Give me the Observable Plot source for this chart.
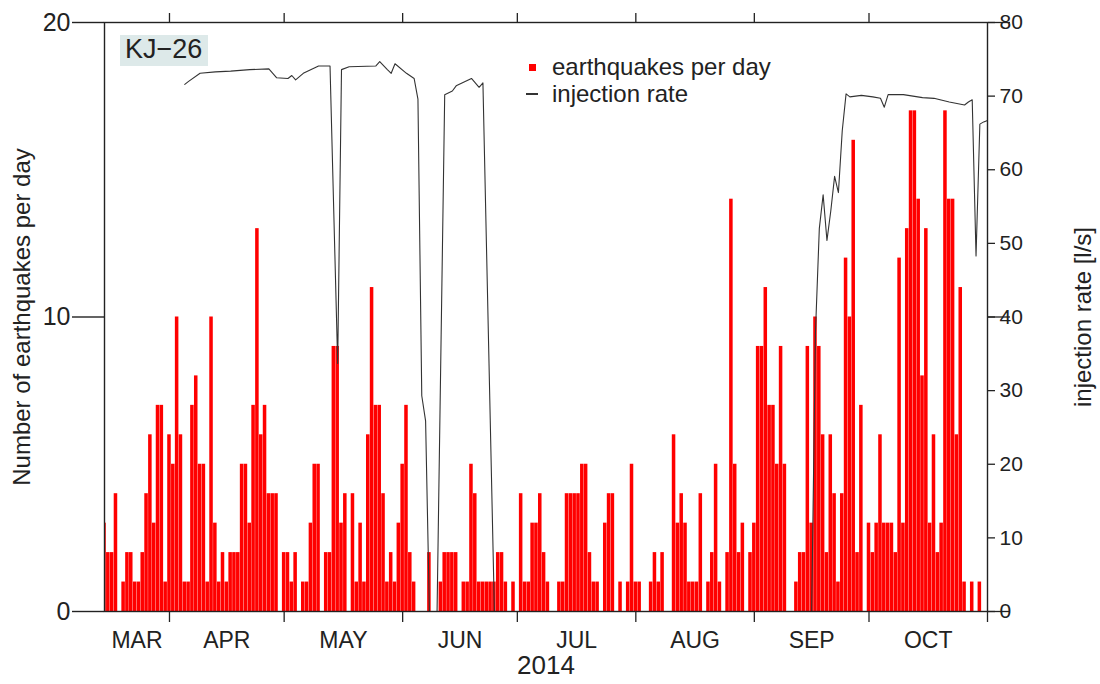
<!DOCTYPE html>
<html>
<head>
<meta charset="utf-8">
<script src="https://cdn.jsdelivr.net/npm/d3@7"></script>
<script src="https://cdn.jsdelivr.net/npm/@observablehq/plot@0.6"></script>
<style>
  body { margin: 0; background: #fff; }
  #wrap { position: relative; width: 1100px; height: 684px; font-family: "Liberation Sans", Arial, sans-serif; color: #222; }
  #tag { position: absolute; left: 120px; top: 35px; width: 88px; height: 31px; background: #dde9e9; }
  #tag span { position: absolute; left: 5px; top: 1px; font-size: 27px; line-height: 27px; }
  .legtxt { position: absolute; left: 552px; font-size: 24px; line-height: 24px; white-space: nowrap; }
  #sq { position: absolute; left: 529px; top: 64px; width: 7px; height: 7px; background: #ff0000; }
  #dash { position: absolute; left: 526px; top: 93px; width: 12px; height: 1.5px; background: #333; }
</style>
</head>
<body>
<div id="wrap"></div>
<script>
// ---------------- data ----------------
const startDate = "2014-03-15";
const endDate = "2014-11-01";

// earthquakes per day, one value per day
const quakesMar = [3,2,2,4,0,1,2,2,1,1,2,4,6,3,7,7,1];                       // Mar 15-31
const quakesApr = [6,5,10,6,1,1,7,8,5,5,1,10,3,1,2,1,2,2,2,5,5,3,7,13,6,7,4,4,4,0];
const quakesMay = [2,2,1,2,0,1,1,3,5,5,0,2,2,9,9,3,4,0,4,1,3,1,6,11,7,7,4,1,2,1,3];
const quakesJun = [5,7,2,1,0,0,0,2,0,0,1,2,2,2,2,0,1,1,5,4,1,1,1,1,1,2,2,1,0,1];
const quakesJul = [0,4,1,1,3,3,4,2,1,0,0,1,1,4,4,4,4,5,5,2,1,1,0,3,4,4,0,1,0,1,5];
const quakesAug = [1,1,0,0,1,2,1,2,0,0,6,3,4,3,1,1,1,4,0,1,2,5,1,0,2,14,5,2,3,0,2];
const quakesSep = [3,9,9,11,7,7,5,9,5,0,0,1,2,2,9,3,10,9,6,2,6,4,1,4,12,10,16,2,7,0];
const quakesOct = [3,2,3,6,3,3,3,2,12,3,13,17,17,14,8,13,3,6,2,3,17,14,14,6,11,1,0,1,0,1,0];

// injection rate [l/s]
const injDates = [
  "2014-04-05","2014-04-06","2014-04-09","2014-04-13","2014-04-17","2014-04-22","2014-04-27","2014-04-29",
  "2014-05-02","2014-05-03","2014-05-04","2014-05-06","2014-05-10","2014-05-13","2014-05-15","2014-05-16",
  "2014-05-18","2014-05-25","2014-05-26","2014-05-28","2014-05-29","2014-05-30","2014-06-02","2014-06-04",
  "2014-06-05","2014-06-06","2014-06-07","2014-06-08","2014-06-10","2014-06-12","2014-06-14","2014-06-15",
  "2014-06-19","2014-06-21","2014-06-22","2014-06-25","2014-09-16","2014-09-17","2014-09-18","2014-09-19",
  "2014-09-20","2014-09-21","2014-09-22","2014-09-23","2014-09-24","2014-09-25","2014-09-26","2014-09-29",
  "2014-10-02","2014-10-04","2014-10-05","2014-10-06","2014-10-10","2014-10-15","2014-10-18","2014-10-22",
  "2014-10-24","2014-10-26","2014-10-27","2014-10-28","2014-10-29","2014-10-30","2014-10-31","2014-11-01"
];
const injRates = [
  71.6,72.0,73.1,73.3,73.4,73.6,73.7,72.5,
  72.4,72.8,72.2,73.1,74.1,74.1,33.7,73.6,
  74.0,74.1,74.7,73.6,73.1,74.4,73.1,72.4,
  69.6,29.3,25.9,0,0,70.2,70.7,71.4,
  72.4,71.2,71.8,0,0,38,52,56.6,
  50.4,54.4,59.1,56.9,65.3,70.3,69.9,70.1,
  69.9,69.7,68.5,70.2,70.2,69.8,69.7,69.2,
  69.0,68.8,69.2,69.5,48.3,66.2,66.5,66.7
];

// axes / labels
const monthBounds = ["2014-03-01","2014-04-01","2014-05-01","2014-06-01","2014-07-01","2014-08-01","2014-09-01","2014-10-01","2014-11-01"];
const monthLabels = ["MAR","APR","MAY","JUN","JUL","AUG","SEP","OCT"];
const leftTicks = [0, 10, 20];
const rightTicks = [0, 10, 20, 30, 40, 50, 60, 70, 80];
const rightLongTicks = [0, 40, 80];
const xTitle = "2014";
const yTitle = "Number of earthquakes per day";
const y2Title = "injection rate [l/s]";
const tagText = "KJ\u221226";
const legendLabels = ["earthquakes per day", "injection rate"];

// ---------------- build ----------------
const t0 = new Date(startDate);
const t1 = new Date(endDate);
const rateMax = 80, countMax = 20, rateScale = rateMax / countMax;

const quakeCounts = [...quakesMar, ...quakesApr, ...quakesMay, ...quakesJun, ...quakesJul, ...quakesAug, ...quakesSep, ...quakesOct];
const quakeRows = quakeCounts.map((c, i) => {
  const d = d3.utcDay.offset(t0, i);
  return {date: d, x1: d3.utcHour.offset(d, -12), x2: d3.utcHour.offset(d, 12), count: c};
}).filter(r => r.count > 0);

const injRows = injDates.map((s, i) => ({date: new Date(s), rate: injRates[i]}));

const bounds = monthBounds.map(s => new Date(s));
const monthStarts = bounds.slice(1);
const monthLabelRows = monthLabels.map((m, i) => {
  const a = Math.max(+bounds[i], +t0), b = +bounds[i + 1];
  return {date: new Date((a + b) / 2), label: m};
});

const chart = Plot.plot({
  width: 1100,
  height: 684,
  marginLeft: 104,
  marginRight: 113,
  marginTop: 22,
  marginBottom: 73,
  style: {fontFamily: "'Liberation Sans', Arial, sans-serif", color: "#222", background: "#fff"},
  x: {type: "utc", domain: [t0, t1]},
  y: {domain: [0, countMax]},
  marks: [
    Plot.rectY(quakeRows, {x1: "x1", x2: "x2", y1: 0, y2: "count", fill: "#ff0000", insetLeft: 0.15, insetRight: 0.15, clip: true}),
    Plot.line(injRows, {x: "date", y: d => d.rate / rateScale, stroke: "#333", strokeWidth: 1.1}),
    Plot.frame({stroke: "#222", strokeWidth: 1.4}),
    Plot.axisY({ticks: leftTicks, tickSize: 32, tickPadding: 2, fontSize: 25, label: null, strokeWidth: 1.4}),
    Plot.axisY({anchor: "right", ticks: rightTicks.map(v => v / rateScale), tickSize: 7, tickPadding: 5,
      tickFormat: v => String(Math.round(v * rateScale)), fontSize: 21, label: null, strokeWidth: 1.3}),
    Plot.axisY({anchor: "right", ticks: rightLongTicks.map(v => v / rateScale), tickSize: 22, tickFormat: () => "", label: null, strokeWidth: 1.3}),
    Plot.axisX({ticks: monthStarts, tickSize: 11, tickFormat: () => "", label: null, strokeWidth: 1.3}),
    Plot.axisX({anchor: "top", ticks: monthStarts.slice(0, -1), tickSize: 10, tickFormat: () => "", label: null, strokeWidth: 1.3}),
    Plot.text(monthLabelRows, {x: "date", text: "label", frameAnchor: "bottom", dy: 36, fontSize: 23, fill: "#222"}),
    Plot.text([xTitle], {text: d => d, frameAnchor: "bottom", textAnchor: "middle", dy: 62, fontSize: 26, fill: "#222"}),
    Plot.text([yTitle], {text: d => d, frameAnchor: "left", textAnchor: "middle", dx: -82, rotate: -90, fontSize: 24, fill: "#222"}),
    Plot.text([y2Title], {text: d => d, frameAnchor: "right", textAnchor: "middle", dx: 96, rotate: -90, fontSize: 24, fill: "#222"})
  ]
});

const wrap = document.getElementById("wrap");
wrap.appendChild(chart);

const tag = document.createElement("div");
tag.id = "tag";
const tagSpan = document.createElement("span");
tagSpan.textContent = tagText;
tag.appendChild(tagSpan);
wrap.appendChild(tag);

const sq = document.createElement("div"); sq.id = "sq"; wrap.appendChild(sq);
const dash = document.createElement("div"); dash.id = "dash"; wrap.appendChild(dash);
legendLabels.forEach((t, i) => {
  const el = document.createElement("div");
  el.className = "legtxt";
  el.style.top = (55 + i * 27) + "px";
  el.textContent = t;
  wrap.appendChild(el);
});
</script>
</body>
</html>
